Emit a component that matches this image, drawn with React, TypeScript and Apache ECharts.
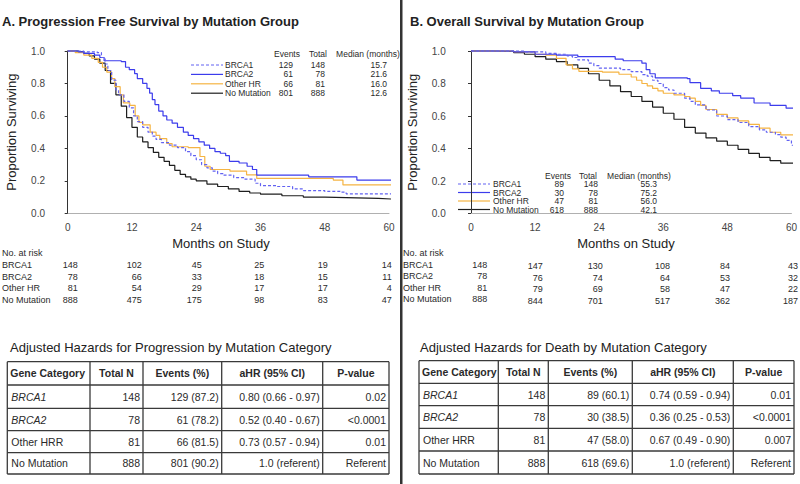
import React, { useEffect, useRef } from "react";
import * as echarts from "echarts";

// ---------- data ----------
const groups = ["BRCA1", "BRCA2", "Other HR", "No Mutation"];
const totals = [148, 78, 81, 888];
const pfsEvents = [129, 61, 66, 801];
const pfsMedian = ["15.7", "21.6", "16.0", "12.6"];
const osEvents = [89, 30, 47, 618];
const osMedian = ["55.3", "75.2", "56.0", "42.1"];

const pfsRisk = [
  [148, 102, 45, 25, 19, 14],
  [78, 66, 33, 18, 15, 11],
  [81, 54, 29, 17, 17, 4],
  [888, 475, 175, 98, 83, 47],
];
const osRisk = [
  [148, 147, 130, 108, 84, 43],
  [78, 76, 74, 64, 53, 32],
  [81, 79, 69, 58, 47, 22],
  [888, 844, 701, 517, 362, 187],
];

const tableHeader = ["Gene Category", "Total N", "Events (%)", "aHR (95% CI)", "P-value"];
const tableCategories = ["BRCA1", "BRCA2", "Other HRR", "No Mutation"];
const italicCategory = [true, true, false, false];
const pfsHazardRows = [
  ["148", "129 (87.2)", "0.80 (0.66 - 0.97)", "0.02"],
  ["78", "61 (78.2)", "0.52 (0.40 - 0.67)", "<0.0001"],
  ["81", "66 (81.5)", "0.73 (0.57 - 0.94)", "0.01"],
  ["888", "801 (90.2)", "1.0 (referent)", "Referent"],
];
const osHazardRows = [
  ["148", "89 (60.1)", "0.74 (0.59 - 0.94)", "0.01"],
  ["78", "30 (38.5)", "0.36 (0.25 - 0.53)", "<0.0001"],
  ["81", "47 (58.0)", "0.67 (0.49 - 0.90)", "0.007"],
  ["888", "618 (69.6)", "1.0 (referent)", "Referent"],
];

// Kaplan-Meier curves: [month, proportion]
const pfsBRCA1 = [
  [0, 1], [3, 0.995], [5.5, 0.99], [6.3, 0.96], [7, 0.92], [7.5, 0.88], [8.2, 0.82], [9, 0.76],
  [9.5, 0.73], [10.5, 0.69], [11.5, 0.65], [12.3, 0.6], [13, 0.565], [14, 0.53], [15, 0.5],
  [15.8, 0.475], [16.5, 0.455], [17.5, 0.435], [19, 0.42], [20.5, 0.405], [22, 0.38], [23, 0.355],
  [24, 0.33], [25, 0.3], [26, 0.28], [27, 0.26], [28, 0.245], [29, 0.235], [31, 0.22], [33, 0.21],
  [35, 0.185], [36, 0.17], [39, 0.165], [42, 0.15], [44, 0.14], [48, 0.135], [51, 0.13], [52, 0.12],
  [60.5, 0.12],
];
const pfsBRCA2 = [
  [0, 1], [2, 0.995], [3, 0.985], [5, 0.975], [6, 0.96], [6.8, 0.94], [10, 0.935], [10.8, 0.9],
  [11.5, 0.885], [12.5, 0.86], [13, 0.83], [14, 0.8], [14.8, 0.77], [15.3, 0.74], [15.8, 0.7],
  [16.3, 0.67], [17, 0.63], [17.8, 0.6], [18.5, 0.575], [19.5, 0.555], [20.5, 0.53], [21.6, 0.5],
  [22.5, 0.48], [23.5, 0.46], [24.5, 0.44], [25.5, 0.42], [26.5, 0.4], [27.5, 0.38], [28.5, 0.37],
  [29.5, 0.355], [30.2, 0.32], [32, 0.31], [33.5, 0.29], [34.5, 0.27], [35.3, 0.235], [44.8, 0.235],
  [45, 0.225], [53.8, 0.225], [54, 0.205], [60.5, 0.205],
];
const pfsOther = [
  [0, 1], [1.4, 0.99], [3, 0.975], [4.5, 0.955], [5.7, 0.93], [6.5, 0.9], [7.3, 0.87], [8.2, 0.83],
  [8.8, 0.78], [9.8, 0.73], [10.4, 0.68], [11.6, 0.665], [12.6, 0.6], [13.3, 0.56], [14, 0.545],
  [15.4, 0.5], [16.5, 0.48], [17.2, 0.46], [18.5, 0.43], [19.5, 0.41], [22.5, 0.405], [24.7, 0.35],
  [25.6, 0.29], [26.6, 0.27], [30.3, 0.26], [33.4, 0.237], [35.3, 0.215], [49.6, 0.205],
  [51.4, 0.175], [60.5, 0.175],
];
const pfsNoMut = [
  [0, 1], [2, 0.995], [3, 0.985], [4, 0.97], [5, 0.95], [6, 0.925], [7, 0.88], [8, 0.8], [9, 0.73],
  [10, 0.66], [11, 0.59], [12, 0.53], [13, 0.47], [14, 0.44], [15, 0.405], [16, 0.375], [17, 0.345],
  [18, 0.32], [19, 0.295], [20, 0.265], [21, 0.24], [22, 0.225], [23, 0.21], [24, 0.2], [26, 0.18],
  [28, 0.165], [30, 0.15], [32, 0.135], [34, 0.125], [36, 0.118], [40, 0.108], [44, 0.1],
  [48, 0.097], [52, 0.094], [56, 0.092], [58, 0.088], [60.5, 0.082],
];

const osBRCA1 = [
  [0, 1], [8, 1], [10, 0.995], [14, 0.985], [16, 0.98], [18, 0.97], [19, 0.96], [20, 0.945],
  [22, 0.925], [23, 0.91], [24, 0.895], [28, 0.885], [30, 0.873], [32, 0.855], [33, 0.845],
  [34, 0.82], [35, 0.8], [36, 0.775], [37, 0.76], [38, 0.74], [40, 0.71], [41, 0.69], [42, 0.668],
  [44, 0.637], [46, 0.6], [48, 0.578], [50, 0.56], [52, 0.535], [54, 0.515], [55.3, 0.5],
  [57, 0.485], [58, 0.47], [59, 0.45], [60, 0.42], [60.5, 0.4],
];
const osBRCA2 = [
  [0, 1], [8, 0.995], [12, 0.98], [16, 0.975], [20, 0.965], [27, 0.95], [28.5, 0.94], [32, 0.925],
  [32.8, 0.885], [33.5, 0.86], [34.5, 0.835], [40.5, 0.83], [41, 0.805], [43, 0.77], [45, 0.755],
  [46.5, 0.74], [49, 0.725], [50.5, 0.71], [53, 0.68], [56, 0.665], [59, 0.648], [60.5, 0.648],
];
const osOther = [
  [0, 1], [8, 0.995], [12, 0.98], [14, 0.975], [16, 0.955], [17.8, 0.915], [19, 0.89],
  [20.2, 0.875], [24.6, 0.87], [27.7, 0.857], [30, 0.84], [31, 0.82], [32, 0.8], [33, 0.785],
  [34, 0.77], [35, 0.755], [36, 0.74], [38, 0.73], [40, 0.72], [41, 0.71], [42, 0.69], [43, 0.665],
  [44, 0.64], [46, 0.61], [48, 0.588], [50, 0.57], [52, 0.548], [54, 0.525], [56, 0.5],
  [58, 0.484], [60.5, 0.462],
];
const osNoMut = [
  [0, 1], [4, 0.998], [8, 0.99], [10, 0.98], [12, 0.965], [14, 0.95], [16, 0.935], [18, 0.915],
  [20, 0.893], [22, 0.86], [24, 0.82], [26, 0.785], [28, 0.75], [30, 0.72], [32, 0.69], [34, 0.655],
  [36, 0.617], [38, 0.58], [40, 0.53], [42, 0.495], [44, 0.465], [46, 0.445], [48, 0.42],
  [50, 0.395], [52, 0.37], [54, 0.345], [56, 0.325], [58, 0.31], [60.5, 0.3],
];

// ---------- styles ----------
const FONT = '"Liberation Sans", Arial, Helvetica, sans-serif';
const COLORS = ["#6262f2", "#3c3cec", "#f5b443", "#1e1e1e"];
const DASHED = [true, false, false, false];
const TEXT = "#2a2a2a";

function txt(x: number, y: number, text: string, o: any = {}) {
  return {
    type: "text",
    x,
    y,
    silent: true,
    style: {
      text,
      fontFamily: FONT,
      fontSize: o.size ?? 9,
      fontWeight: o.weight ?? "normal",
      fontStyle: o.italic ? "italic" : "normal",
      fill: o.color ?? TEXT,
      align: o.align ?? "left",
      verticalAlign: "middle",
    },
  };
}
function ln(x1: number, y1: number, x2: number, y2: number, stroke: string, w: number, dash?: any) {
  return {
    type: "line",
    silent: true,
    shape: { x1, y1, x2, y2 },
    style: { stroke, lineWidth: w, lineDash: dash },
  };
}

function legendBlock(cfg: any, events: number[], medians: string[]) {
  const els: any[] = [];
  els.push(txt(cfg.evC, cfg.headY, "Events", { size: 8.5, align: "center" }));
  els.push(txt(cfg.totC, cfg.headY, "Total", { size: 8.5, align: "center" }));
  els.push(txt(cfg.medC, cfg.headY, "Median (months)", { size: 8.5, align: "center" }));
  groups.forEach((g, i) => {
    const y = cfg.rows[i];
    els.push(ln(cfg.l1, y, cfg.l2, y, COLORS[i], 1.2, DASHED[i] ? [3, 2] : null));
    els.push(txt(cfg.lab, y, g, { size: 8.5 }));
    els.push(txt(cfg.evR, y, String(events[i]), { size: 8.5, align: "right" }));
    els.push(txt(cfg.totR, y, String(totals[i]), { size: 8.5, align: "right" }));
    els.push(txt(cfg.medR, y, medians[i], { size: 8.5, align: "right" }));
  });
  return els;
}

function riskBlock(cfg: any, risk: number[][]) {
  const els: any[] = [];
  els.push(txt(cfg.labX, cfg.headY, "No. at risk", { size: 9 }));
  groups.forEach((g, i) => {
    const y = cfg.rows[i];
    els.push(txt(cfg.labX, y, g, { size: 9 }));
    risk[i].forEach((v, j) => {
      els.push(txt(cfg.cols[j], y + (j > 0 ? cfg.shift : 0), String(v), { size: 9, align: "right" }));
    });
  });
  return els;
}

function hazardTable(cfg: any, title: string, rows: string[][]) {
  const els: any[] = [];
  els.push(txt(cfg.titleX, cfg.titleY, title, { size: 13, color: "#222" }));
  const xs = cfg.xs;
  const ys = cfg.ys;
  ys.forEach((y: number) => els.push(ln(xs[0], y, xs[xs.length - 1], y, "#3a3a3a", 1.3)));
  xs.forEach((x: number) => els.push(ln(x, ys[0], x, ys[ys.length - 1], "#3a3a3a", 1.3)));
  tableHeader.forEach((h, j) => {
    const yc = (ys[0] + ys[1]) / 2;
    if (j === 0) els.push(txt(xs[0] + 3, yc, h, { size: 10.5, weight: "bold" }));
    else els.push(txt((xs[j] + xs[j + 1]) / 2, yc, h, { size: 10.5, weight: "bold", align: "center" }));
  });
  tableCategories.forEach((c, i) => {
    const yc = (ys[i + 1] + ys[i + 2]) / 2;
    els.push(txt(xs[0] + 4, yc, c, { size: 10.5, italic: italicCategory[i] }));
    rows[i].forEach((v, j) => {
      els.push(txt(xs[j + 2] - 3, yc, v, { size: 10.5, align: "right" }));
    });
  });
  return els;
}

function kmSeries(name: string, data: number[][], i: number, axis: number) {
  return {
    type: "line",
    name,
    data,
    xAxisIndex: axis,
    yAxisIndex: axis,
    step: "end",
    symbol: "none",
    showSymbol: false,
    clip: false,
    silent: true,
    z: 10 - i,
    lineStyle: { color: COLORS[i], width: 1.2, type: DASHED[i] ? [3, 2] : "solid" },
    itemStyle: { color: COLORS[i] },
  };
}

function xAxisCfg(idx: number) {
  return {
    type: "value",
    gridIndex: idx,
    min: 0,
    max: 60,
    interval: 12,
    axisLine: { show: true, lineStyle: { color: "#b0b0b0", width: 1 } },
    axisTick: { show: false },
    splitLine: { show: false },
    axisLabel: { fontFamily: FONT, fontSize: 10, color: "#444", margin: 9 },
  };
}
function yAxisCfg(idx: number, offset: number) {
  return {
    type: "value",
    gridIndex: idx,
    min: 0,
    max: 1,
    interval: 0.2,
    offset,
    name: "Proportion Surviving",
    nameLocation: "middle",
    nameGap: 32,
    nameTextStyle: { fontFamily: FONT, fontSize: 13, color: "#222" },
    axisLine: { show: true, lineStyle: { color: "#333", width: 1 } },
    axisTick: { show: true, length: 3, lineStyle: { color: "#333" } },
    splitLine: { show: false },
    axisLabel: {
      fontFamily: FONT,
      fontSize: 10,
      color: "#444",
      margin: 5,
      formatter: (v: number) => v.toFixed(1),
    },
  };
}

export default function App() {
  const ref = useRef<HTMLDivElement>(null);
  useEffect(() => {
    if (!ref.current) return;
    const chart = echarts.init(ref.current, null, { renderer: "svg" });

    const graphic: any[] = [
      { type: "rect", silent: true, shape: { x: 400, y: 0, width: 2.5, height: 484 }, style: { fill: "#333" } },
      txt(2, 21, "A. Progression Free Survival by Mutation Group", { size: 13, weight: "bold", color: "#222" }),
      txt(410, 21, "B. Overall Survival by Mutation Group", { size: 13, weight: "bold", color: "#222" }),
      txt(221, 243, "Months on Study", { size: 13, align: "center", color: "#222" }),
      txt(626, 243, "Months on Study", { size: 13, align: "center", color: "#222" }),
      ...legendBlock(
        { headY: 54, rows: [65, 74.4, 83.8, 93.2], l1: 191, l2: 223, lab: 225, evC: 287, totC: 318, medC: 368, evR: 293, totR: 325, medR: 387 },
        pfsEvents,
        pfsMedian
      ),
      ...legendBlock(
        { headY: 175.5, rows: [184, 192.5, 201, 209.5], l1: 458, l2: 490, lab: 493, evC: 558, totC: 588, medC: 639, evR: 564, totR: 598, medR: 657 },
        osEvents,
        osMedian
      ),
      ...riskBlock(
        { labX: 2, headY: 252.7, rows: [265, 276.7, 288.3, 300], cols: [77.7, 141.7, 201.7, 264.3, 327.7, 391.7], shift: 0 },
        pfsRisk
      ),
      ...riskBlock(
        { labX: 403, headY: 252.7, rows: [264.5, 276, 287.5, 299], cols: [487.3, 542.7, 602.7, 670, 730, 798], shift: 1.5 },
        osRisk
      ),
      ...hazardTable(
        { titleX: 10, titleY: 347, xs: [7.3, 90, 143, 221.7, 322.7, 389], ys: [361.7, 385, 408.3, 430.7, 452.7, 474] },
        "Adjusted Hazards for Progression by Mutation Category",
        pfsHazardRows
      ),
      ...hazardTable(
        { titleX: 420, titleY: 347, xs: [419, 498.3, 548.3, 632.3, 733.3, 794], ys: [360.7, 383.3, 405.7, 428.3, 451, 474] },
        "Adjusted Hazards for Death by Mutation Category",
        osHazardRows
      ),
    ];

    chart.setOption({
      animation: false,
      backgroundColor: "#ffffff",
      grid: [
        { left: 67.7, right: 800 - 389, top: 51, bottom: 484 - 213.3 },
        { left: 471, right: 6, top: 51, bottom: 484 - 213.5 },
      ],
      xAxis: [xAxisCfg(0), xAxisCfg(1)],
      yAxis: [yAxisCfg(0, 17.7), yAxisCfg(1, 20.3)],
      series: [
        kmSeries("No Mutation", pfsNoMut, 3, 0),
        kmSeries("Other HR", pfsOther, 2, 0),
        kmSeries("BRCA1", pfsBRCA1, 0, 0),
        kmSeries("BRCA2", pfsBRCA2, 1, 0),
        kmSeries("No Mutation", osNoMut, 3, 1),
        kmSeries("Other HR", osOther, 2, 1),
        kmSeries("BRCA1", osBRCA1, 0, 1),
        kmSeries("BRCA2", osBRCA2, 1, 1),
      ],
      graphic,
    });
    return () => chart.dispose();
  }, []);

  return (
    <div
      ref={ref}
      style={{ position: "fixed", left: 0, top: 0, width: 800, height: 484, background: "#fff" }}
    />
  );
}
